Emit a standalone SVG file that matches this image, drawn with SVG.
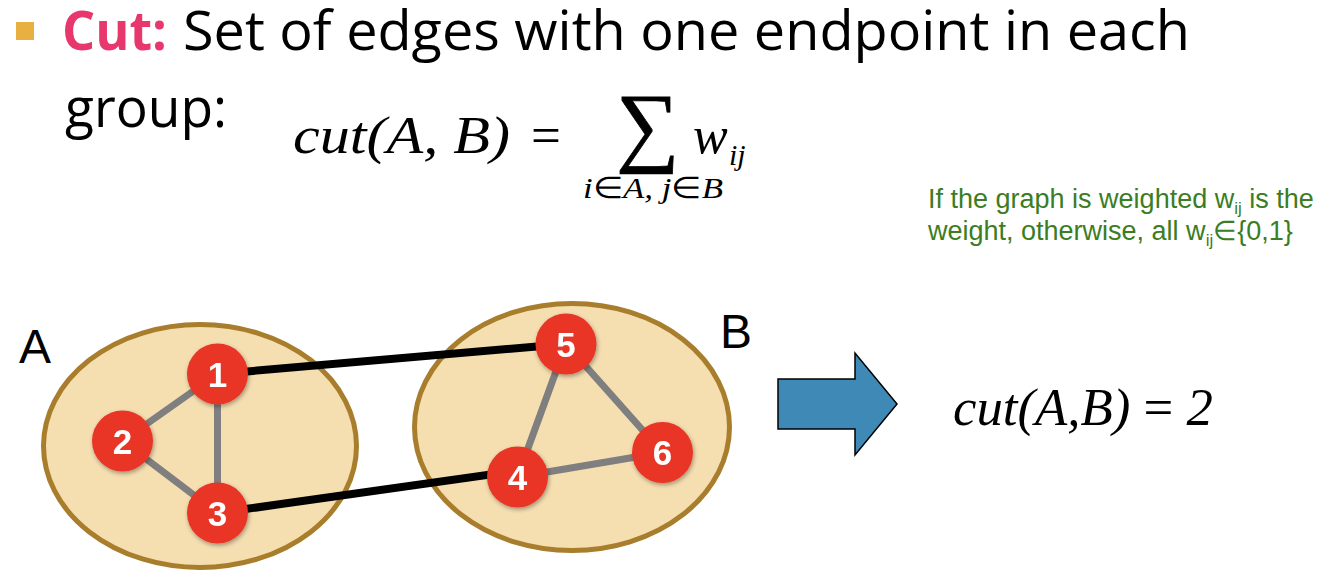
<svg xmlns="http://www.w3.org/2000/svg" width="1338" height="588" viewBox="0 0 1338 588">
<defs>
<style>
.title{font-family:"Open Sans","Liberation Sans",sans-serif;font-size:54px;fill:#000}
.math{font-family:"Liberation Serif","Times New Roman",serif;font-style:italic;fill:#000}
.up{font-style:normal}
.note{font-family:"Liberation Sans",Arial,sans-serif;font-size:27px;fill:#3b7d22}
.lbl{font-family:"Liberation Sans",Arial,sans-serif;font-size:48px;fill:#000}
.grp{fill:#f5deb0;stroke:#a87d2c;stroke-width:5}
.node circle{fill:#e83427}
.node text{font-family:"Liberation Sans",Arial,sans-serif;font-weight:bold;font-size:35px;fill:#fff;text-anchor:middle}
.gedge{stroke:#7f7f7f;stroke-width:7;stroke-linecap:round}
.cedge{stroke:#000;stroke-width:8;stroke-linecap:butt}
</style>
<filter id="sh" x="-30%" y="-30%" width="160%" height="160%">
<feDropShadow dx="1" dy="2" stdDeviation="2" flood-color="#000" flood-opacity="0.35"/>
</filter>
</defs>
<rect width="1338" height="588" fill="#fff"/>

<g id="title">
<rect x="16" y="22" width="18" height="18" fill="#e8b040"/>
<text x="62" y="50" class="title" style="font-weight:bold;fill:#e8376c" textLength="105" lengthAdjust="spacingAndGlyphs">Cut:</text>
<text x="183" y="50" class="title" textLength="1007" lengthAdjust="spacingAndGlyphs">Set of edges with one endpoint in each</text>
<text x="65" y="127" class="title" textLength="162" lengthAdjust="spacingAndGlyphs">group:</text>
</g>

<g id="formula">
<text x="293" y="153" class="math" font-size="53" textLength="217" lengthAdjust="spacingAndGlyphs">cut(A, B)</text>
<text x="531" y="153" class="math up" font-size="53">=</text>
<text x="616" y="155" class="math up" font-size="89" stroke="#000" stroke-width="0.8">∑</text>
<text x="693" y="153" class="math" font-size="52">w</text>
<text x="729" y="165" class="math" font-size="30">ij</text>
<text x="583" y="198" class="math" font-size="30" textLength="140" lengthAdjust="spacingAndGlyphs">i<tspan class="up">∈</tspan>A, j<tspan class="up">∈</tspan>B</text>
</g>

<g id="note">
<text x="928" y="208" class="note">If the graph is weighted w<tspan font-size="17" dy="6">ij</tspan><tspan dy="-6"> is the</tspan></text>
<text x="928" y="240" class="note">weight, otherwise, all w<tspan font-size="17" dy="6">ij</tspan><tspan dy="-6">∈{0,1}</tspan></text>
</g>

<g id="groupA">
<ellipse class="grp" cx="200" cy="446" rx="156.5" ry="121.5"/>
<text x="19" y="363" class="lbl">A</text>
</g>
<g id="groupB">
<ellipse class="grp" cx="572" cy="427" rx="157.5" ry="123.5"/>
<text x="720" y="348" class="lbl">B</text>
</g>

<g id="connectors">
<line class="gedge" x1="217.5" y1="374" x2="122.5" y2="441"/>
<line class="gedge" x1="217.5" y1="374" x2="217.5" y2="513"/>
<line class="gedge" x1="122.5" y1="441" x2="217.5" y2="513"/>
<line class="gedge" x1="566" y1="344" x2="517.5" y2="477"/>
<line class="gedge" x1="566" y1="344" x2="662.5" y2="452.5"/>
<line class="gedge" x1="517.5" y1="477" x2="662.5" y2="452.5"/>
<line class="cedge" x1="217.5" y1="374" x2="566" y2="344"/>
<line class="cedge" x1="217.5" y1="513" x2="515" y2="471"/>
</g>

<g id="n1" class="node" filter="url(#sh)"><circle cx="217.5" cy="374" r="30.5"/><text x="217.5" y="386.5">1</text></g>
<g id="n2" class="node" filter="url(#sh)"><circle cx="122.5" cy="441" r="30.5"/><text x="122.5" y="453.5">2</text></g>
<g id="n3" class="node" filter="url(#sh)"><circle cx="217.5" cy="513" r="30.5"/><text x="217.5" y="525.5">3</text></g>
<g id="n4" class="node" filter="url(#sh)"><circle cx="517.5" cy="477" r="30.5"/><text x="517.5" y="489.5">4</text></g>
<g id="n5" class="node" filter="url(#sh)"><circle cx="566" cy="344" r="30.5"/><text x="566" y="356.5">5</text></g>
<g id="n6" class="node" filter="url(#sh)"><circle cx="662.5" cy="452.5" r="30.5"/><text x="662.5" y="465">6</text></g>

<g id="arrow">
<polygon points="778,379 855,379 855,353 897,404 855,455 855,429 778,429" fill="#3f89b6" stroke="#000" stroke-width="1.5"/>
</g>

<g id="result">
<text x="953" y="425" class="math" font-size="52" textLength="260" lengthAdjust="spacingAndGlyphs">cut(A,B) <tspan class="up">=</tspan> 2</text>
</g>
</svg>
